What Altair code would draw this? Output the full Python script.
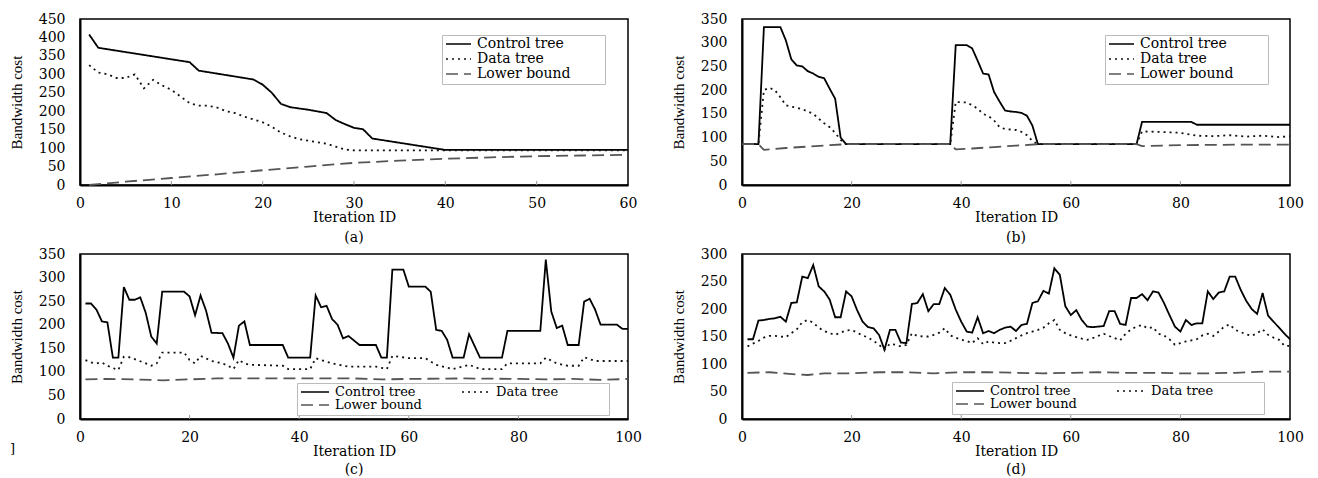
import altair as alt
import pandas as pd

SERIES = ["Control tree", "Data tree", "Lower bound"]
COLORS = ["#000000", "#111111", "#555555"]
DASHES = [[1, 0], [2, 4], [12, 6]]

# ---------------- panel (a) ----------------
a_ctrl_x = [1, 2, 12, 13, 19, 20, 21, 22, 23, 25, 27, 28, 29, 30, 31, 32, 40, 60]
a_ctrl_y = [408, 372, 333, 310, 286, 272, 250, 220, 211, 204, 195, 176, 165, 155, 151, 126, 95, 95]
a_data_x = [1, 2, 3, 4, 5, 6, 7, 8, 9, 10, 11, 12, 13, 14, 15, 16, 17, 18, 19, 20,
            21, 22, 23, 24, 25, 26, 27, 28, 29, 30, 60]
a_data_y = [325, 305, 300, 290, 290, 300, 262, 285, 270, 258, 240, 222, 215, 215, 210, 200, 195, 185, 178, 170,
            158, 142, 132, 124, 120, 116, 112, 104, 96, 94, 94]
a_low_x = [1, 5, 10, 15, 20, 25, 30, 35, 40, 45, 50, 55, 60]
a_low_y = [0, 9, 19, 29, 40, 50, 60, 66, 71, 75, 78, 80, 82]

# ---------------- panel (b) ----------------
b_ctrl_x = [0, 3, 4, 7, 8, 9, 10, 11, 12, 13, 14, 15, 16, 17, 18, 19, 38, 39, 41, 42,
            43, 44, 45, 46, 47, 48, 49, 50, 51, 52, 53, 54, 72, 73, 82, 83, 100]
b_ctrl_y = [86, 86, 333, 333, 305, 265, 252, 250, 240, 235, 228, 225, 203, 182, 100, 86, 86, 295, 295, 288,
            262, 235, 233, 196, 176, 157, 155, 154, 152, 146, 125, 86, 86, 133, 133, 127, 127]
b_data_x = [0, 3, 4, 5, 6, 7, 8, 9, 10, 11, 12, 13, 14, 15, 16, 17, 18, 19, 38, 39,
            41, 42, 43, 44, 45, 46, 47, 48, 49, 50, 51, 52, 53, 54, 72, 73, 76, 80, 83, 86,
            89, 92, 95, 98, 100]
b_data_y = [86, 86, 200, 205, 200, 185, 168, 165, 163, 160, 155, 150, 140, 130, 122, 110, 95, 86, 86, 175,
            174, 168, 161, 150, 145, 136, 122, 118, 117, 116, 112, 105, 93, 86, 86, 113, 112, 110, 104, 103,
            105, 102, 104, 101, 103]
b_low_x = [0, 3, 4, 8, 12, 16, 19, 38, 39, 42, 46, 50, 54, 72, 73, 80, 90, 100]
b_low_y = [86, 86, 74, 78, 81, 84, 86, 86, 75, 77, 80, 83, 86, 86, 82, 84, 85, 85]

# ---------------- panel (c) ----------------
c_ctrl_x = [1, 2, 3, 4, 5, 6, 7, 8, 9, 10, 11, 12, 13, 14, 15, 19, 20, 21, 22, 23,
            24, 26, 27, 28, 29, 30, 31, 37, 38, 42, 43, 44, 45, 46, 47, 48, 49, 51, 54, 55,
            56, 57, 59, 60, 63, 64, 65, 66, 67, 68, 70, 71, 73, 77, 78, 84, 85, 86, 87, 88,
            89, 91, 92, 93, 94, 95, 98, 99, 100]
c_ctrl_y = [245, 245, 232, 207, 205, 130, 130, 280, 253, 253, 258, 225, 175, 160, 270, 270, 260, 220, 262, 230,
            183, 182, 160, 130, 198, 207, 157, 157, 130, 130, 262, 237, 240, 212, 200, 171, 176, 157, 157, 130,
            130, 317, 317, 281, 281, 270, 189, 187, 168, 130, 130, 180, 130, 130, 187, 187, 338, 228, 193, 198,
            157, 157, 249, 255, 232, 200, 200, 191, 191]
c_data_x = [1, 2, 3, 4, 5, 6, 7, 8, 9, 10, 12, 13, 14, 15, 19, 20, 21, 22, 24, 26,
            27, 28, 29, 30, 31, 37, 38, 42, 43, 44, 46, 49, 54, 56, 57, 60, 63, 65, 68, 71,
            73, 77, 78, 84, 85, 87, 89, 91, 92, 94, 100]
c_data_y = [125, 120, 118, 120, 113, 108, 104, 132, 131, 127, 118, 113, 118, 141, 141, 125, 118, 134, 123, 118,
            113, 106, 125, 118, 115, 113, 106, 106, 129, 125, 118, 111, 111, 106, 134, 129, 129, 115, 106, 115,
            106, 106, 118, 118, 130, 118, 113, 113, 131, 123, 123]
c_low_x = [1, 5, 10, 15, 20, 25, 30, 40, 50, 55, 60, 70, 80, 85, 90, 95, 100]
c_low_y = [84, 85, 84, 82, 84, 86, 86, 86, 86, 84, 85, 86, 85, 84, 85, 83, 85]

# ---------------- panel (d) ----------------
d_ctrl_x = list(range(1, 101))
d_ctrl_y = [145, 145, 179, 180, 182, 183, 186, 177, 211, 212, 259, 256, 280, 241, 232, 217, 185, 185, 232, 223,
            198, 177, 167, 165, 153, 126, 162, 162, 139, 138, 209, 211, 227, 196, 209, 209, 238, 226, 199, 177,
            159, 157, 185, 156, 160, 156, 162, 166, 168, 160, 171, 173, 211, 214, 233, 228, 274, 262, 205, 189,
            198, 180, 168, 167, 168, 169, 196, 196, 173, 171, 220, 220, 227, 216, 232, 230, 211, 189, 168, 159,
            180, 171, 174, 174, 232, 218, 230, 232, 259, 259, 235, 215, 200, 191, 229, 188, 177, 166, 155, 145]
d_data_x = list(range(1, 101))
d_data_y = [132, 137, 142, 148, 151, 151, 150, 149, 156, 163, 176, 180, 175, 166, 160, 156, 153, 157, 161, 162,
            157, 152, 148, 142, 135, 126, 137, 135, 132, 135, 156, 151, 150, 150, 153, 157, 165, 152, 148, 144,
            142, 138, 147, 136, 141, 139, 138, 138, 142, 147, 152, 156, 159, 162, 166, 174, 180, 162, 156, 152,
            149, 146, 144, 147, 151, 155, 151, 147, 143, 155, 163, 168, 171, 165, 167, 155, 152, 145, 135, 138,
            141, 143, 145, 152, 155, 151, 159, 168, 172, 162, 158, 154, 151, 156, 163, 153, 148, 144, 133, 133]
d_low_x = [1, 5, 10, 12, 15, 20, 25, 30, 35, 40, 45, 50, 55, 60, 65, 70, 75, 80, 85, 90, 95, 100]
d_low_y = [84, 85, 81, 80, 83, 83, 85, 85, 83, 85, 85, 84, 83, 84, 85, 84, 84, 83, 83, 84, 86, 86]

STRAY_TEXT = ["]"]  # stray bracket printed at the lower-left of the original figure

BLANK = "\u2800"  # blank braille cell: invisible, but has width (legend box width)


def frame(cx, cy, dx, dy, lx, ly):
    rows = []
    for name, xs, ys in ((SERIES[0], cx, cy), (SERIES[1], dx, dy), (SERIES[2], lx, ly)):
        for i, (x, y) in enumerate(zip(xs, ys)):
            rows.append({"x": x, "y": y, "series": name, "i": i})
    return pd.DataFrame(rows)


def panel(df, xmax, xstep, ymax, caption, cap_off, lx, ly, cols, symlen, h,
          pad_all, pad_data, rowpad, lfs, stray=False):
    expr = "datum.label + (datum.label == 'Data tree' ? '%s' : '%s')" % (BLANK * pad_data, BLANK * pad_all)
    leg = alt.Legend(
        title=None, orient="none", legendX=lx, legendY=ly, columns=cols,
        direction="horizontal" if cols > 1 else "vertical",
        columnPadding=10, rowPadding=rowpad, padding=3, clipHeight=12,
        labelFont="DejaVu Serif", labelFontSize=lfs, labelColor="#000", labelExpr=expr,
        symbolType="stroke", symbolSize=symlen * symlen, symbolStrokeWidth=1.6,
        labelOffset=5, fillColor="white", strokeColor="#bbbbbb",
    )
    xscale = alt.Scale(domain=[0, xmax], nice=False)
    lines = alt.Chart(df).mark_line(strokeWidth=1.8, strokeCap="butt").encode(
        x=alt.X("x:Q", scale=xscale,
                axis=alt.Axis(values=list(range(0, xmax + 1, xstep)), title="Iteration ID",
                              labelFlush=False, labelPadding=11, titlePadding=0,
                              titleFont="DejaVu Serif", titleFontSize=14)),
        y=alt.Y("y:Q", scale=alt.Scale(domain=[0, ymax], nice=False),
                axis=alt.Axis(values=list(range(0, ymax + 1, 50)), title="Bandwidth cost",
                              labelPadding=15, titlePadding=14,
                              titleFont="Liberation Serif", titleFontSize=15)),
        color=alt.Color("series:N", scale=alt.Scale(domain=SERIES, range=COLORS), legend=leg),
        strokeDash=alt.StrokeDash("series:N", scale=alt.Scale(domain=SERIES, range=DASHES), legend=leg),
        order="i:Q",
    )
    ticks = alt.Chart(pd.DataFrame({"t": list(range(xstep, xmax, xstep))})).mark_rule(
        color="#999999", strokeWidth=1
    ).encode(x=alt.X("t:Q", scale=xscale), y=alt.value(h - 4), y2=alt.value(h))
    layers = [lines, ticks]
    if stray:
        layers.append(
            alt.Chart(pd.DataFrame({"s": STRAY_TEXT})).mark_text(
                align="left", baseline="bottom", font="DejaVu Serif", fontSize=13, color="#000"
            ).encode(x=alt.value(-70), y=alt.value(h + 37), text="s:N")
        )
    return alt.layer(*layers).properties(
        width=548, height=h,
        title=alt.TitleParams(caption, orient="bottom", anchor="middle", offset=cap_off,
                              font="DejaVu Serif", fontSize=14, fontWeight="normal"),
    )


pa = panel(frame(a_ctrl_x, a_ctrl_y, a_data_x, a_data_y, a_low_x, a_low_y),
           60, 10, 450, "(a)", 7, 362, 16, 1, 25, 166, 3, 3, 1, 14)
pb = panel(frame(b_ctrl_x, b_ctrl_y, b_data_x, b_data_y, b_low_x, b_low_y),
           100, 20, 350, "(b)", 7, 363, 16, 1, 25, 166, 3, 3, 1, 14)
pc = panel(frame(c_ctrl_x, c_ctrl_y, c_data_x, c_data_y, c_low_x, c_low_y),
           100, 20, 350, "(c)", 5, 217, 129, 2, 28, 165, 3, 5, 0, 13, stray=True)
pd_ = panel(frame(d_ctrl_x, d_ctrl_y, d_data_x, d_data_y, d_low_x, d_low_y),
            100, 20, 300, "(d)", 5, 210, 128, 2, 28, 165, 3, 5, 0, 13)

row1 = alt.hconcat(pa, pb, spacing=32).resolve_legend(color="independent", strokeDash="independent")
row2 = alt.hconcat(pc, pd_, spacing=27).resolve_legend(color="independent", strokeDash="independent")

chart = alt.vconcat(row1, row2, spacing=0).resolve_legend(
    color="independent", strokeDash="independent"
).properties(
    padding={"left": 0, "top": 3, "right": 0, "bottom": 0}
).configure(
    background="white",
).configure_view(
    stroke="#000", strokeWidth=1.5,
).configure_axis(
    grid=False, ticks=False, tickSize=0, domainColor="#000", domainWidth=2,
    labelFont="DejaVu Serif", labelFontSize=14, labelColor="#000",
    titleColor="#000", titleFontWeight="normal",
)

chart.save("out.html", embed_options={"renderer": "svg", "actions": False})
